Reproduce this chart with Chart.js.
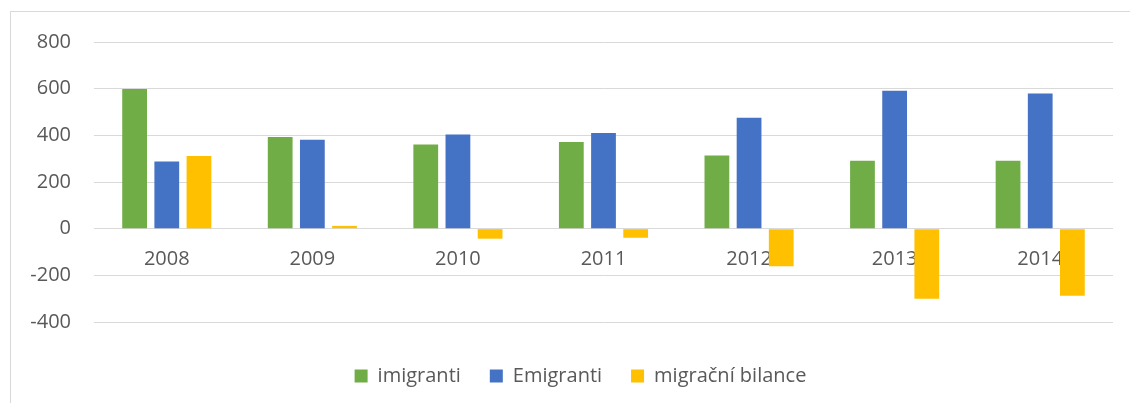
<!DOCTYPE html>
<html>
<head>
<meta charset="utf-8">
<script src="https://cdn.jsdelivr.net/npm/chart.js@4/dist/chart.umd.min.js"></script>
<style>
  html, body { margin: 0; padding: 0; background: #fff; overflow: hidden; }
  #wrap { position: relative; width: 1130px; height: 403px; }
  #frame {
    position: absolute; left: 10px; top: 11px; width: 1200px; height: 500px;
    border: 1.5px solid #d9d9d9; pointer-events: none;
  }
</style>
</head>
<body>
<div id="wrap">
  <canvas id="chart"></canvas>
  <div id="frame"></div>
</div>
<script>
// Hodnoty
const years = ["2008", "2009", "2010", "2011", "2012", "2013", "2014"];
const imigranti = [599, 393, 361, 371, 314, 291, 291];
const emigranti = [288, 381, 404, 410, 475, 591, 579];
const bilance = [311, 12, -43, -39, -161, -300, -288];
const yTicks = [-400, -200, 0, 200, 400, 600, 800];

const textColor = "#595959";
const gridColor = "#d9d9d9";
const font = { family: "'Open Sans', sans-serif", size: 20 };

// Legenda je v originale posunuta doprava a dolu oproti vychozi poloze.
const legendShift = {
  id: "legendShift",
  afterLayout(chart) {
    if (!chart.legend) return;
    chart.legend.left += 19;
    chart.legend.right += 19;
    chart.legend.top += 15;
    chart.legend.bottom += 15;
  }
};

new Chart(document.getElementById("chart"), {
  type: "bar",
  data: {
    labels: years,
    datasets: [
      { label: "imigranti", data: imigranti, backgroundColor: "#70ad47" },
      { label: "Emigranti", data: emigranti, backgroundColor: "#4472c4" },
      { label: "migrační bilance", data: bilance, backgroundColor: "#ffc000" }
    ]
  },
  options: {
    responsive: true,
    maintainAspectRatio: false,
    animation: false,
    categoryPercentage: 0.663,
    barPercentage: 0.77,
    layout: { padding: { top: 42, left: 10, right: 17, bottom: 22 } },
    scales: {
      x: {
        position: { y: 0 },
        grid: { display: false },
        border: { display: false },
        ticks: { color: textColor, font, padding: 11 }
      },
      y: {
        min: -400,
        max: 800,
        afterBuildTicks: (scale) => { scale.ticks = yTicks.map((v) => ({ value: v })); },
        afterFit: (scale) => { scale.width = 84; },
        grid: { color: gridColor, lineWidth: 1, drawTicks: false },
        border: { display: false },
        ticks: { color: textColor, font, padding: 23 }
      }
    },
    plugins: {
      legend: {
        position: "bottom",
        labels: { color: textColor, font, boxWidth: 13, boxHeight: 13, padding: 29 }
      },
      tooltip: { enabled: false }
    }
  },
  plugins: [legendShift]
});
</script>
</body>
</html>
